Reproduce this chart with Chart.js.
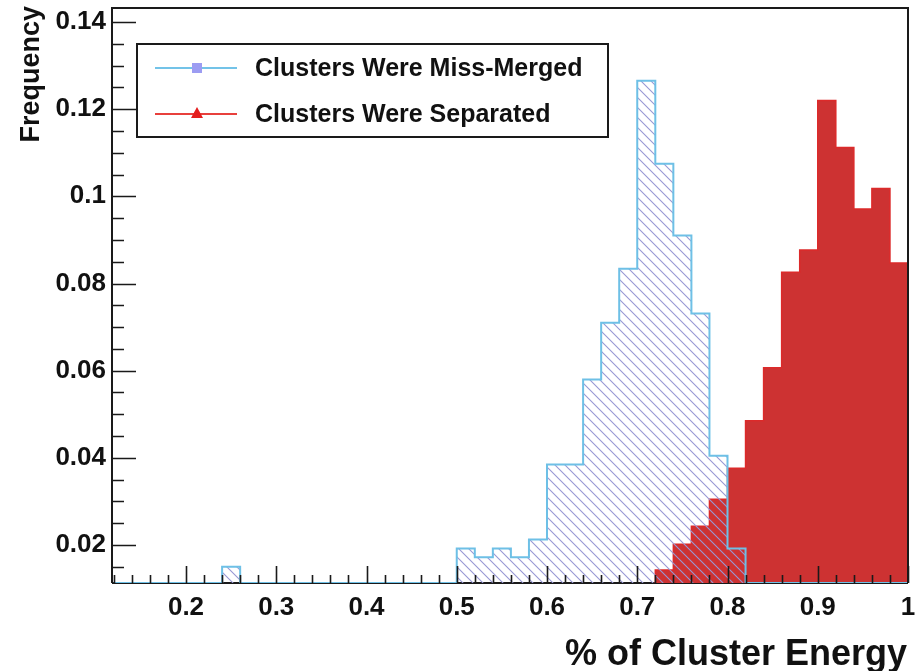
<!DOCTYPE html>
<html>
<head>
<meta charset="utf-8">
<title>% of Cluster Energy</title>
<script src="https://cdn.jsdelivr.net/npm/chart.js@4.4.1/dist/chart.umd.min.js"></script>
<style>
  html, body { margin: 0; padding: 0; background: #fff; }
  #wrap { width: 916px; height: 671px; position: relative; }
</style>
</head>
<body>
<div id="wrap"><canvas id="energy-chart"></canvas></div>
<script>
// histogram bin edges, width 0.02 (last entry closes the final bin)
const binEdges = [
  0.12, 0.14, 0.16, 0.18, 0.20, 0.22, 0.24, 0.26, 0.28, 0.30,
  0.32, 0.34, 0.36, 0.38, 0.40, 0.42, 0.44, 0.46, 0.48, 0.50,
  0.52, 0.54, 0.56, 0.58, 0.60, 0.62, 0.64, 0.66, 0.68, 0.70,
  0.72, 0.74, 0.76, 0.78, 0.80, 0.82, 0.84, 0.86, 0.88, 0.90,
  0.92, 0.94, 0.96, 0.98, 1.00
];

// frequency per bin
const missMerged = [
  0, 0, 0, 0, 0, 0, 0.0150, 0, 0, 0,
  0, 0, 0, 0, 0, 0, 0, 0, 0, 0.0192,
  0.0172, 0.0192, 0.0172, 0.0213, 0.0385, 0.0385, 0.0580, 0.0710, 0.0834, 0.1265,
  0.1075, 0.0910, 0.0731, 0.0405, 0.0192, 0, 0, 0, 0, 0,
  0, 0, 0, 0
];
const separated = [
  0, 0, 0, 0, 0, 0, 0, 0, 0, 0,
  0, 0, 0, 0, 0, 0, 0, 0, 0, 0,
  0, 0, 0, 0, 0, 0, 0, 0, 0, 0,
  0.0143, 0.0202, 0.0243, 0.0305, 0.0376, 0.0485, 0.0607, 0.0826, 0.0877, 0.1220,
  0.1112, 0.0971, 0.1018, 0.0847
];

const seriesLabels = ['Clusters Were Miss-Merged', 'Clusters Were Separated'];
const xTickValues = [0.2, 0.3, 0.4, 0.5, 0.6, 0.7, 0.8, 0.9, 1.0];
const xTickLabels = ['0.2', '0.3', '0.4', '0.5', '0.6', '0.7', '0.8', '0.9', '1'];
const yTickValues = [0.02, 0.04, 0.06, 0.08, 0.10, 0.12, 0.14];
const yTickLabels = ['0.02', '0.04', '0.06', '0.08', '0.1', '0.12', '0.14'];

const X_MIN = 0.118, X_MAX = 1.0;
const Y_MIN = 0.0113, Y_MAX = 0.1432;
const FONT = '"Liberation Sans", Arial, Helvetica, sans-serif';

const close = (a, b) => Math.abs(a - b) < 1e-6;
const isMultiple = (v, step) => close(v / step, Math.round(v / step));

// empty bins sit on the lower edge of the frame, as in ROOT;
// skipLeading drops the empty run before the first filled bin
function histPoints(values, skipLeading) {
  let start = 0;
  if (skipLeading) {
    while (start < values.length && values[start] === 0) start++;
  }
  const pts = [{ x: binEdges[start], y: Y_MIN }];
  for (let i = start; i < values.length; i++) {
    pts.push({ x: binEdges[i], y: Math.max(values[i], Y_MIN) });
  }
  pts.push({ x: binEdges[values.length], y: Y_MIN });
  return pts;
}

function makeHatch() {
  const c = document.createElement('canvas');
  c.width = c.height = 10;
  const g = c.getContext('2d');
  g.strokeStyle = '#9898d4';
  g.lineWidth = 1.1;
  g.beginPath();
  g.moveTo(-1, -1); g.lineTo(11, 11);
  g.moveTo(-1, 9); g.lineTo(1, 11);
  g.moveTo(9, -1); g.lineTo(11, 1);
  g.stroke();
  return g.createPattern(c, 'repeat');
}

// frame, inward tick marks, legend box and axis titles
const rootStyle = {
  id: 'rootStyle',
  beforeDatasetsDraw(chart) {
    const { ctx, chartArea: a } = chart;
    ctx.save();
    ctx.strokeStyle = '#1a1a1a';
    ctx.lineWidth = 2;
    ctx.beginPath();
    ctx.moveTo(a.left, a.bottom);
    ctx.lineTo(a.right, a.bottom);
    ctx.stroke();
    ctx.restore();
  },
  afterDatasetsDraw(chart) {
    const { ctx, chartArea: a, scales } = chart;
    ctx.save();
    ctx.strokeStyle = '#1a1a1a';
    ctx.lineWidth = 2;
    ctx.beginPath();
    ctx.moveTo(a.left, a.bottom);
    ctx.lineTo(a.left, a.top);
    ctx.lineTo(a.right, a.top);
    ctx.lineTo(a.right, a.bottom);
    ctx.stroke();

    ctx.lineWidth = 1.6;
    ctx.beginPath();
    scales.x.ticks.forEach(t => {
      if (!isMultiple(t.value, 0.02)) return;
      const px = Math.round(scales.x.getPixelForValue(t.value)) + 0.5;
      const len = isMultiple(t.value, 0.1) ? 17 : 8;
      ctx.moveTo(px, a.bottom);
      ctx.lineTo(px, a.bottom - len);
    });
    scales.y.ticks.forEach(t => {
      if (!isMultiple(t.value, 0.005)) return;
      const py = Math.round(scales.y.getPixelForValue(t.value)) + 0.5;
      const len = isMultiple(t.value, 0.02) ? 24 : 12;
      ctx.moveTo(a.left, py);
      ctx.lineTo(a.left + len, py);
    });
    ctx.stroke();
    ctx.restore();
  },
  afterDraw(chart) {
    const { ctx, chartArea: a } = chart;
    ctx.save();

    // legend
    const bx = a.left + 25, by = a.top + 36, bw = 471, bh = 93;
    ctx.strokeStyle = '#1a1a1a';
    ctx.lineWidth = 2;
    ctx.strokeRect(bx, by, bw, bh);
    const rows = [
      { y: by + 24, line: '#73c3e8', mark: '#9c9cf2', shape: 'square' },
      { y: by + 70, line: '#e8403c', mark: '#e41e1e', shape: 'triangle' }
    ];
    rows.forEach((r, i) => {
      ctx.strokeStyle = r.line;
      ctx.lineWidth = 2;
      ctx.beginPath();
      ctx.moveTo(bx + 18, r.y);
      ctx.lineTo(bx + 100, r.y);
      ctx.stroke();
      ctx.fillStyle = r.mark;
      const cx = bx + 60;
      if (r.shape === 'square') {
        ctx.fillRect(cx - 5, r.y - 5, 10, 10);
      } else {
        ctx.beginPath();
        ctx.moveTo(cx, r.y - 7);
        ctx.lineTo(cx + 6, r.y + 4);
        ctx.lineTo(cx - 6, r.y + 4);
        ctx.closePath();
        ctx.fill();
      }
      ctx.fillStyle = '#111';
      ctx.font = 'bold 25px ' + FONT;
      ctx.textAlign = 'left';
      ctx.textBaseline = 'middle';
      ctx.fillText(seriesLabels[i], bx + 118, r.y + 1);
    });

    // axis titles
    ctx.fillStyle = '#111';
    ctx.textBaseline = 'alphabetic';
    ctx.textAlign = 'right';
    ctx.font = 'bold 36px ' + FONT;
    ctx.fillText('% of Cluster Energy', 907, 665);

    ctx.translate(39, 6);
    ctx.rotate(-Math.PI / 2);
    ctx.font = 'bold 27px ' + FONT;
    ctx.fillText('Frequency', 0, 0);
    ctx.restore();
  }
};

// fixed axis boxes, no extra room for overhanging labels
function fixBox(size) {
  return function(scale) {
    if (scale.isHorizontal()) scale.height = size;
    else scale.width = size;
    scale.paddingLeft = scale.paddingRight = 0;
    scale.paddingTop = scale.paddingBottom = 0;
  };
}

document.addEventListener('DOMContentLoaded', function() {
  const ctx = document.getElementById('energy-chart').getContext('2d');
  const hatch = makeHatch();

  new Chart(ctx, {
    type: 'line',
    data: {
      datasets: [
        {
          label: seriesLabels[1],
          data: histPoints(separated, true),
          stepped: true,
          fill: 'start',
          backgroundColor: '#cd3232',
          borderColor: '#dc2a2a',
          borderWidth: 1.5,
          pointRadius: 0,
          order: 2
        },
        {
          label: seriesLabels[0],
          data: histPoints(missMerged, false),
          stepped: true,
          fill: 'start',
          backgroundColor: hatch,
          borderColor: '#6ec0e6',
          borderWidth: 2,
          pointRadius: 0,
          order: 1
        }
      ]
    },
    options: {
      responsive: true,
      maintainAspectRatio: false,
      animation: false,
      events: [],
      layout: { padding: { top: 8, right: 8, left: 0, bottom: 0 } },
      plugins: {
        legend: { display: false },
        tooltip: { enabled: false }
      },
      scales: {
        x: {
          type: 'linear',
          min: X_MIN,
          max: X_MAX,
          border: { display: false },
          grid: { display: false, drawTicks: false },
          afterFit: fixBox(88),
          ticks: {
            stepSize: 0.02,
            includeBounds: false,
            autoSkip: false,
            maxRotation: 0,
            minRotation: 0,
            padding: 9,
            color: '#111',
            font: { family: FONT, size: 26, weight: 'bold' },
            callback(value) {
              const i = xTickValues.findIndex(v => close(v, value));
              return i >= 0 ? xTickLabels[i] : '';
            }
          }
        },
        y: {
          type: 'linear',
          min: Y_MIN,
          max: Y_MAX,
          border: { display: false },
          grid: { display: false, drawTicks: false },
          afterFit: fixBox(112),
          ticks: {
            stepSize: 0.005,
            includeBounds: false,
            autoSkip: false,
            padding: 6,
            color: '#111',
            font: { family: FONT, size: 26, weight: 'bold' },
            callback(value) {
              const i = yTickValues.findIndex(v => close(v, value));
              return i >= 0 ? yTickLabels[i] : '';
            }
          }
        }
      }
    },
    plugins: [rootStyle]
  });
});
</script>
</body>
</html>
